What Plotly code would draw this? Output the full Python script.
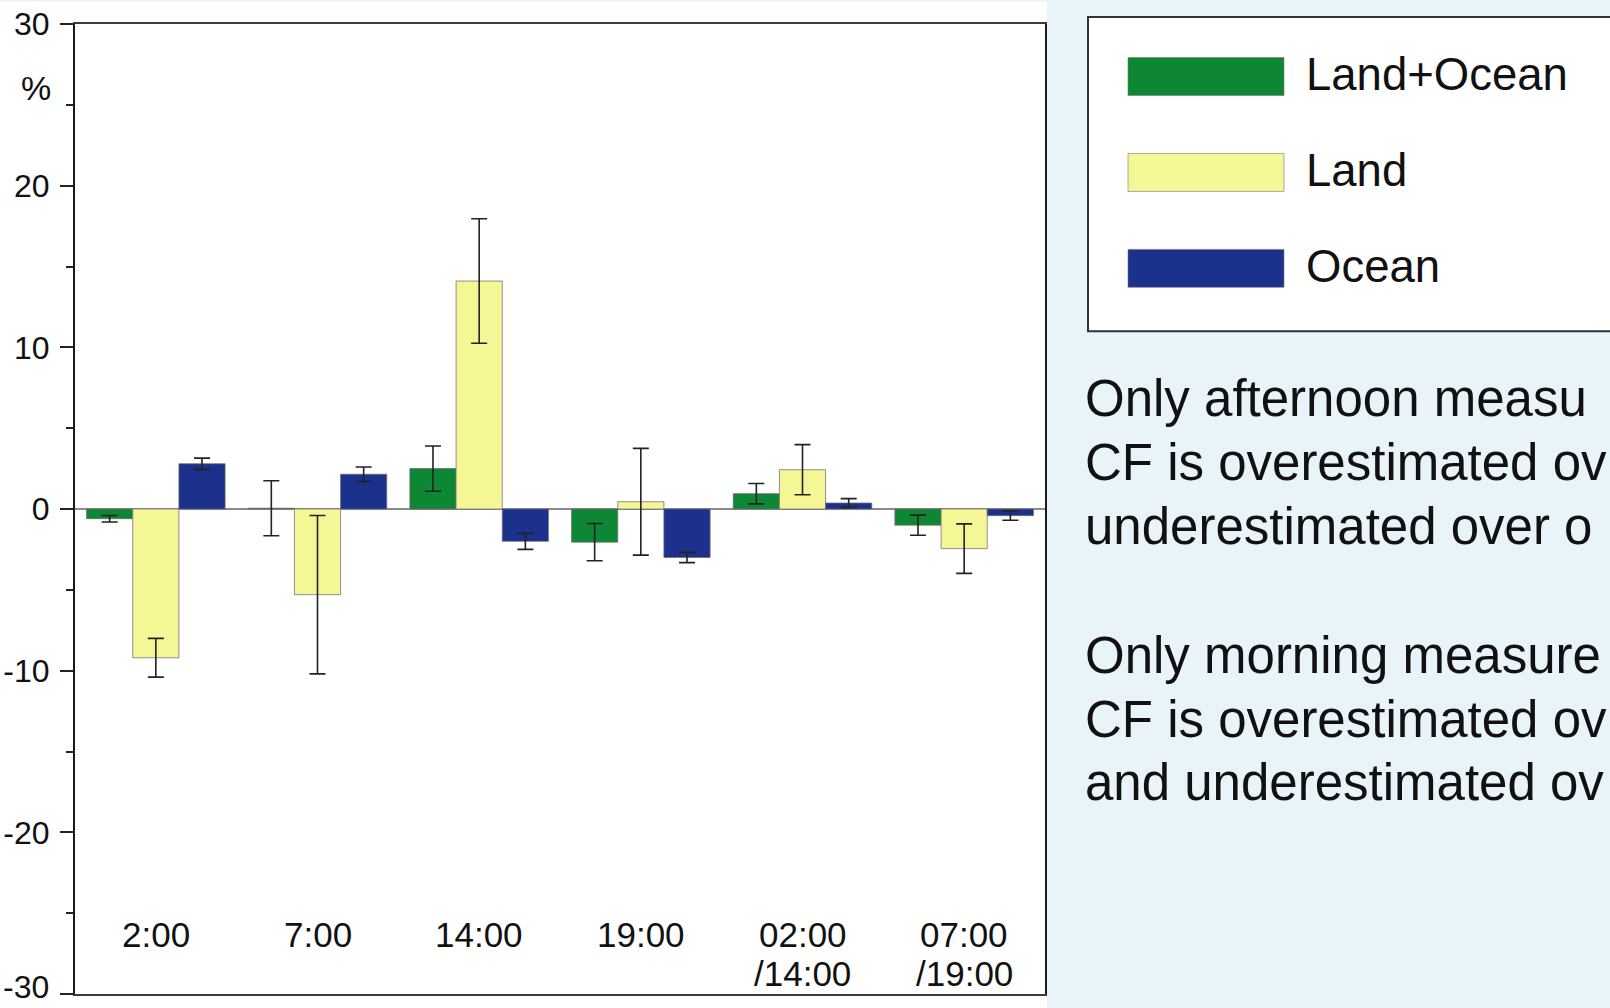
import plotly.graph_objects as go

# ---------------- data ----------------
categories = ["2:00", "7:00", "14:00", "19:00", "02:00<br>/14:00", "07:00<br>/19:00"]
series_names = ["Land+Ocean", "Land", "Ocean"]
land_ocean = [-0.6, 0.05, 2.5, -2.05, 0.95, -1.0]
land_ocean_err = [0.2, 1.7, 1.4, 1.15, 0.63, 0.62]
land = [-9.2, -5.3, 14.1, 0.45, 2.43, -2.45]
land_err = [1.2, 4.9, 3.85, 3.3, 1.55, 1.53]
ocean = [2.8, 2.15, -2.0, -3.0, 0.37, -0.41]
ocean_err = [0.35, 0.45, 0.5, 0.32, 0.27, 0.29]
y_ticks = [-30, -20, -10, 0, 10, 20, 30]
y_tick_labels = ["-30", "-20", "-10", "0", "10", "20", "30"]
y_unit = "%"
# visible part of the side notes (the slide cuts them at its right edge)
notes = [
    "Only afternoon measu",
    "CF is overestimated ov",
    "underestimated over o",
    "Only morning measure",
    "CF is overestimated ov",
    "and underestimated ov",
]

colors = ["#0E8734", "#F5F796", "#1B318C"]
values = [land_ocean, land, ocean]
errors = [land_ocean_err, land_err, ocean_err]

# ---------------- layout geometry (pixels) ----------------
FW, FH = 1610, 1008
L, R, T, B = 75, 1045, 23.5, 994
W, H = R - L, B - T


def px_x(px):
    return (px - L) / W


def px_y(py):
    return (B - py) / H


FONT = "Liberation Sans, Arial, sans-serif"
TICK_SIZE = 32

fig = go.Figure()
for name, vals, errs, col in zip(series_names, values, errors, colors):
    fig.add_trace(go.Bar(
        x=categories, y=vals, name=name,
        marker=dict(color=col, line=dict(color="rgba(110,110,110,0.75)", width=1)),
        error_y=dict(type="data", array=errs, visible=True,
                     color="#222222", thickness=1.6, width=8),
        showlegend=False,
    ))

shapes = []
annotations = []

# white chart panel on the light-blue slide
shapes.append(dict(type="rect", xref="paper", yref="paper", layer="below",
                   x0=px_x(-5), x1=px_x(1047), y0=px_y(1015), y1=px_y(1),
                   fillcolor="white", line=dict(width=0)))

# category labels inside the plot near the bottom
for cat in categories:
    parts = cat.split("<br>")
    for i, p in enumerate(parts):
        annotations.append(dict(
            x=cat, xref="x", y=px_y(934 + 39 * i), yref="paper",
            text=p, showarrow=False, xanchor="center", yanchor="middle",
            font=dict(family=FONT, size=35, color="#111111")))

# unit label
annotations.append(dict(x=px_x(36), y=px_y(88), xref="paper", yref="paper",
                        text=y_unit, showarrow=False, xanchor="center", yanchor="middle",
                        font=dict(family=FONT, size=34, color="#111111")))

# the lowest tick label sits at the very bottom edge: keep it inside the page
tick_text = list(y_tick_labels)
tick_text[0] = ""
annotations.append(dict(x=px_x(51), y=px_y(1007.5), xref="paper", yref="paper",
                        text=y_tick_labels[0], showarrow=False, xanchor="right", yanchor="bottom",
                        font=dict(family=FONT, size=TICK_SIZE, color="#111111")))

# custom legend
shapes.append(dict(type="rect", xref="paper", yref="paper",
                   x0=px_x(1088), x1=px_x(1640), y0=px_y(331), y1=px_y(16.5),
                   fillcolor="white", line=dict(color="#333333", width=2)))
sw_centers = [76, 172, 268]
for name, col, cy in zip(series_names, colors, sw_centers):
    shapes.append(dict(type="rect", xref="paper", yref="paper",
                       x0=px_x(1128), x1=px_x(1284), y0=px_y(cy + 19), y1=px_y(cy - 19),
                       fillcolor=col, line=dict(color="rgba(120,120,120,0.6)", width=1)))
    annotations.append(dict(x=px_x(1304), y=px_y(cy - 2), xref="paper", yref="paper",
                            text=name, showarrow=False, xanchor="left", yanchor="middle",
                            font=dict(family=FONT, size=45.5, color="#111111")))

# notes text
note_y = [398, 462, 526, 655, 719, 782]
for txt, cy in zip(notes, note_y):
    annotations.append(dict(x=px_x(1083), y=px_y(cy), xref="paper", yref="paper",
                            text=txt, showarrow=False, xanchor="left", yanchor="middle",
                            font=dict(family=FONT, size=51, color="#111111")))

fig.update_layout(
    width=FW, height=FH,
    margin=dict(l=L, r=FW - R, t=T, b=FH - B, pad=0, autoexpand=False),
    paper_bgcolor="#E9F3FA",
    plot_bgcolor="white",
    barmode="group", bargap=0.143, bargroupgap=0.0,
    shapes=shapes, annotations=annotations,
    font=dict(family=FONT, color="#111111"),
)
fig.update_xaxes(showticklabels=False, ticks="", showgrid=False, automargin=False,
                 showline=True, mirror=True, linecolor="#3c3c3c", linewidth=2,
                 zeroline=False)
fig.update_yaxes(range=[-30, 30], tickvals=y_ticks, ticktext=tick_text,
                 ticks="outside", ticklen=13, automargin=False,
                 ticklabeloverflow="allow",
                 tickwidth=1.5, tickcolor="#222222",
                 minor=dict(ticks="outside", ticklen=7, dtick=5, tickcolor="#222222", tickwidth=1.5),
                 showgrid=False, showline=True, mirror=True, linecolor="#1a1a1a", linewidth=2,
                 zeroline=True, zerolinecolor="#8a8a8a", zerolinewidth=2,
                 ticklabelstandoff=4,
                 tickfont=dict(family=FONT, size=TICK_SIZE, color="#111111"))

fig.write_html("out.html")
